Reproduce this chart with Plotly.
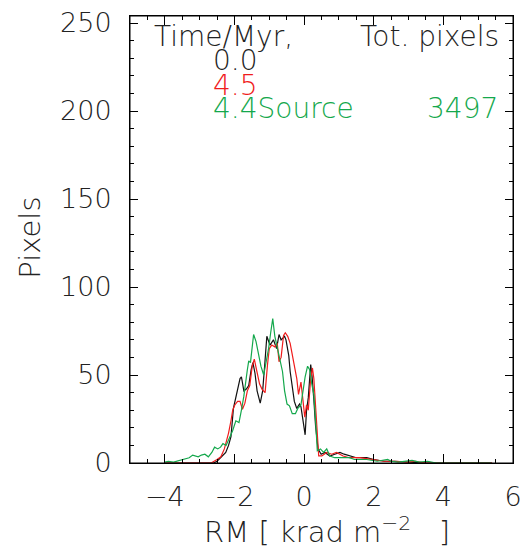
import plotly.graph_objects as go

# RM values (krad m^-2) and pixel counts
black_x = [-4.0, -3.0, -2.6, -2.5, -2.4, -2.3, -2.25, -2.17, -2.1, -2.03, -1.97, -1.9, -1.84, -1.8,
           -1.73, -1.66, -1.59, -1.52, -1.47, -1.41, -1.35, -1.26, -1.19, -1.13, -1.07, -0.98, -0.88,
           -0.79, -0.72, -0.66, -0.56, -0.52, -0.44, -0.40, -0.34, -0.28, -0.21, -0.13, -0.09, -0.02,
           0.03, 0.07, 0.12, 0.19, 0.23, 0.28, 0.33, 0.40, 0.49, 0.60, 0.74, 0.88, 1.03, 1.15, 1.3,
           1.5, 1.8, 2.0, 2.3, 2.6, 3.0, 3.5, 4.0, 5.0, 5.4]
black_y = [0, 0, 0, 1, 3, 5, 6, 10, 15, 31, 36, 43, 48, 49,
           41, 42, 44, 53, 57, 51, 41, 34, 41, 56, 72, 67, 70,
           65, 73, 70, 72, 70, 61, 52, 42.5, 35, 31, 33.5, 32, 24,
           16, 30, 37, 56, 49, 36, 21, 8, 5, 6, 4, 5, 6, 5, 4,
           3, 3, 2, 1, 1, 0.5, 0, 0, 0, 0]

red_x = [-4.0, -3.0, -2.67, -2.5, -2.39, -2.29, -2.17, -2.1, -2.05, -1.99, -1.91, -1.84, -1.77, -1.70,
         -1.63, -1.56, -1.49, -1.43, -1.36, -1.28, -1.21, -1.12, -1.05, -1.0, -0.93, -0.84, -0.77,
         -0.72, -0.66, -0.59, -0.54, -0.47, -0.40, -0.34, -0.28, -0.21, -0.16, -0.09, -0.04, 0.02,
         0.07, 0.12, 0.19, 0.24, 0.28, 0.33, 0.38, 0.42, 0.51, 0.65, 0.79, 0.93, 1.12, 1.3, 1.6,
         2.0, 2.3, 2.6, 3.0, 3.2, 3.5, 4.0, 5.4]
red_y = [0, 0, 0, 2, 3.5, 8, 17, 24, 30, 33, 35, 35, 30.5, 34,
         41, 44, 55, 59, 53, 45, 42, 40, 56, 65, 67, 66, 68,
         57.5, 60, 72.5, 74, 72, 68, 62, 55, 48, 39, 46, 37, 26,
         33, 30, 48, 54, 48, 30, 15, 4, 4, 6, 5, 6, 4, 3, 3,
         2, 1, 1, 0.5, 1, 0, 0, 0]

green_x = [-4.0, -3.9, -3.75, -3.51, -3.3, -3.2, -3.04, -2.95, -2.85, -2.75, -2.65, -2.57, -2.48, -2.40,
           -2.33, -2.24, -2.15, -2.05, -1.96, -1.87, -1.8, -1.73, -1.63, -1.59, -1.54, -1.49, -1.45,
           -1.38, -1.31, -1.24, -1.16, -1.10, -1.02, -0.96, -0.90, -0.84, -0.77, -0.70, -0.62, -0.56,
           -0.49, -0.42, -0.34, -0.25, -0.18, -0.09, -0.03, 0.03, 0.10, 0.16, 0.22, 0.28, 0.33, 0.38,
           0.47, 0.56, 0.65, 0.74, 0.88, 1.06, 1.3, 1.45, 1.8, 2.1, 2.4, 2.5, 2.7, 3.1, 3.3, 3.55,
           3.8, 4.5, 5.37]
green_y = [0.5, 1, 0.5, 2, 3, 4.5, 3.5, 4.5, 5, 3.5, 6, 9, 8, 9,
           11, 10, 14, 18.5, 24, 23, 30, 38, 53, 58, 57, 68, 73,
           69, 62, 55, 50, 56, 65, 74, 82, 72, 65, 59, 52, 41,
           33.5, 32.5, 28, 28, 31, 33, 41, 49, 55, 53, 45, 39, 24, 7,
           8, 6, 8, 4, 3, 3, 3, 2, 2, 1, 2, 1, 0.5, 1.5, 0.5, 1,
           0, 0, 0]

x_ticks = [-4, -2, 0, 2, 4, 6]
y_ticks = [0, 50, 100, 150, 200, 250]

BLACK = "#111111"
RED = "#f01c1c"
GREEN = "#14a84c"
FONT = "DejaVu Sans ExtraLight, DejaVu Sans"

fig = go.Figure()
for xs, ys, col in [(black_x, black_y, BLACK), (red_x, red_y, RED), (green_x, green_y, GREEN)]:
    fig.add_trace(go.Scatter(x=xs, y=ys, mode="lines", line=dict(color=col, width=1.2),
                             showlegend=False, hoverinfo="skip"))

axis_common = dict(showline=True, linecolor="black", linewidth=1, mirror="allticks",
                   ticks="inside", showgrid=False, zeroline=False, tickcolor="black",
                   tickwidth=1, ticklabeloverflow="allow",
                   tickfont=dict(family=FONT, size=27, color="#222", weight=200))

fig.update_xaxes(range=[-5, 6], tickvals=x_ticks, ticklen=9, ticklabelstandoff=10,
                 minor=dict(dtick=0.5, tick0=0, ticks="inside", ticklen=4, tickcolor="black",
                            tickwidth=1, showgrid=False),
                 **axis_common)
fig.update_yaxes(range=[0, 254], tickvals=y_ticks, ticklen=8, ticklabelstandoff=12,
                 minor=dict(dtick=10, tick0=0, ticks="inside", ticklen=4, tickcolor="black",
                            tickwidth=1, showgrid=False),
                 **axis_common)

# plot frame (top edge included)
fig.add_shape(type="rect", xref="paper", yref="paper", x0=0, x1=1, y0=0, y1=1,
              line=dict(color="black", width=1), layer="above")

ann_font = dict(family=FONT, size=28, weight=200)
anns = [
    dict(x=-4.38, y=242.5, text="Time/Myr,", xanchor="left", color="#222"),
    dict(x=5.66, y=242.5, text="Tot. pixels", xanchor="right", color="#222"),
    dict(x=-2.67, y=228.5, text="0.0", xanchor="left", color="#222"),
    dict(x=-2.67, y=214.5, text="4.5", xanchor="left", color=RED),
    dict(x=-2.67, y=201.5, text="4.4Source", xanchor="left", color=GREEN),
    dict(x=5.63, y=201.5, text="3497", xanchor="right", color=GREEN),
]
for a in anns:
    fig.add_annotation(x=a["x"], y=a["y"], xref="x", yref="y", text=a["text"],
                       xanchor=a["xanchor"], yanchor="middle", showarrow=False,
                       font=dict(color=a["color"], **ann_font))

# axis titles
fig.add_annotation(x=0.515, y=-0.1505, xref="paper", yref="paper",
                   text="RM [ krad m<sup>−2</sup>   ]", showarrow=False,
                   xanchor="center", yanchor="middle",
                   font=dict(family=FONT, size=29, color="#222", weight=200))
fig.add_annotation(x=-0.26, y=0.505, xref="paper", yref="paper", text="Pixels",
                   showarrow=False, textangle=-90, xanchor="center", yanchor="middle",
                   font=dict(family=FONT, size=29, color="#222", weight=200))

fig.update_layout(width=530, height=556, margin=dict(l=130, r=8, t=8, b=93),
                  plot_bgcolor="white", paper_bgcolor="white")

fig.write_html("out.html")
